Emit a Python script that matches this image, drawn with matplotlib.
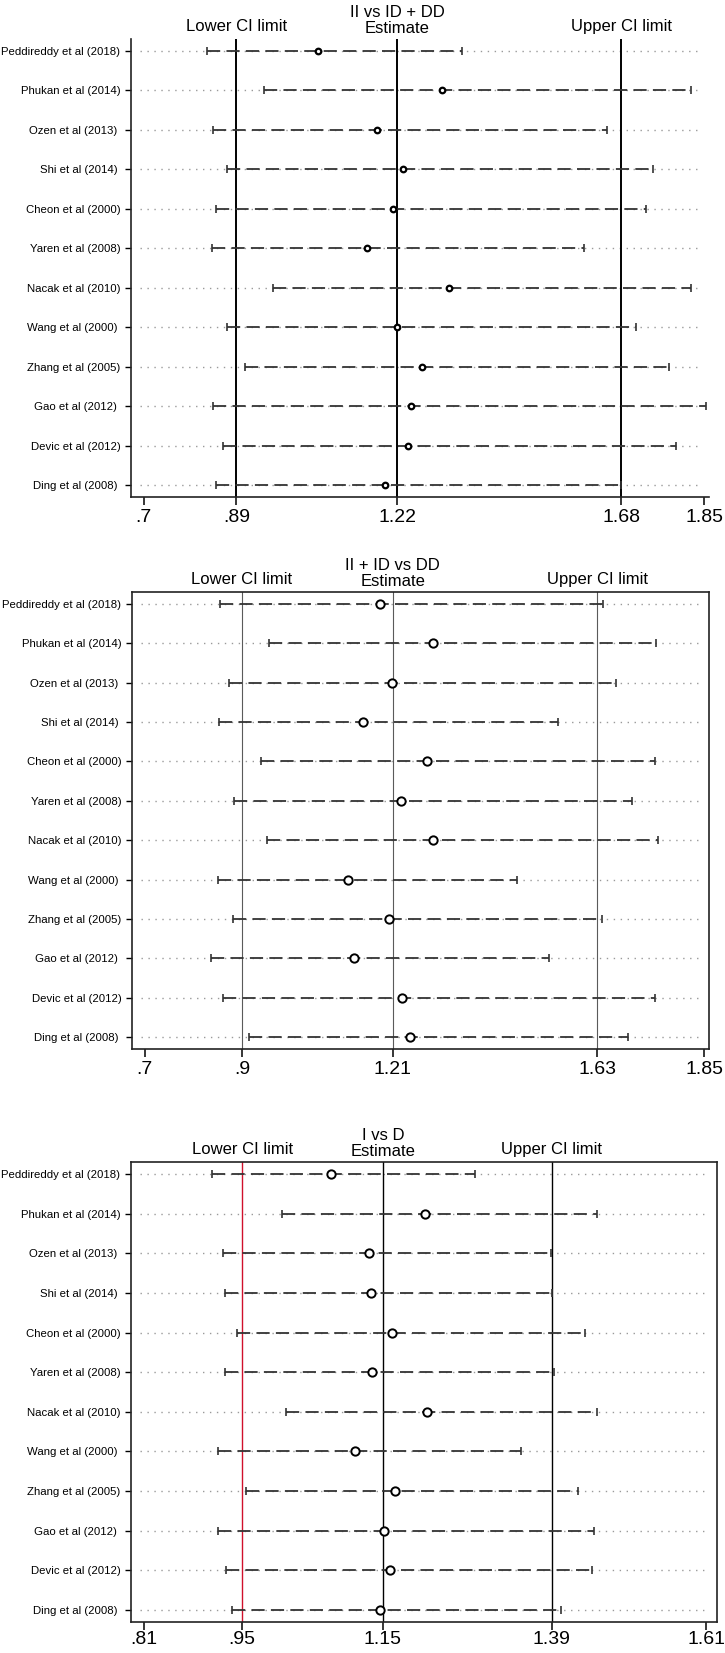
import matplotlib
matplotlib.use("Agg")
import matplotlib.pyplot as plt

plt.rcParams['font.family'] = ['Liberation Sans', 'DejaVu Sans']
plt.rcParams['lines.scale_dashes'] = False

studies = ["Peddireddy et al (2018)", "Phukan et al (2014)", "Ozen et al (2013) ",
           "Shi et al (2014) ", "Cheon et al (2000)", "Yaren et al (2008)",
           "Nacak et al (2010)", "Wang et al (2000) ", "Zhang et al (2005)",
           "Gao et al (2012) ", "Devic et al (2012)", "Ding et al (2008) "]

# II vs ID + DD
est1 = [1.058, 1.313, 1.178, 1.233, 1.212, 1.159, 1.327, 1.220, 1.271, 1.248, 1.242, 1.195]
lo1 = [0.829, 0.947, 0.842, 0.872, 0.849, 0.840, 0.965, 0.871, 0.907, 0.842, 0.862, 0.849]
hi1 = [1.353, 1.823, 1.651, 1.745, 1.731, 1.603, 1.823, 1.711, 1.778, 1.853, 1.793, 1.680]
overall1 = [0.89, 1.22, 1.68]
ticks1 = [0.7, 0.89, 1.22, 1.68, 1.85]
ticklab1 = [".7", ".89", "1.22", "1.68", "1.85"]

# II + ID vs DD
est2 = [1.183, 1.292, 1.208, 1.149, 1.281, 1.227, 1.292, 1.117, 1.203, 1.130, 1.229, 1.245]
lo2 = [0.854, 0.955, 0.873, 0.852, 0.939, 0.884, 0.951, 0.851, 0.882, 0.836, 0.862, 0.915]
hi2 = [1.642, 1.751, 1.668, 1.550, 1.748, 1.701, 1.755, 1.465, 1.641, 1.531, 1.750, 1.694]
overall2 = [0.9, 1.21, 1.63]
ticks2 = [0.7, 0.9, 1.21, 1.63, 1.85]
ticklab2 = [".7", ".9", "1.21", "1.63", "1.85"]

# I vs D
est3 = [1.077, 1.210, 1.131, 1.133, 1.163, 1.135, 1.213, 1.110, 1.167, 1.152, 1.160, 1.146]
lo3 = [0.907, 1.007, 0.923, 0.925, 0.942, 0.926, 1.013, 0.916, 0.955, 0.916, 0.927, 0.936]
hi3 = [1.281, 1.454, 1.389, 1.391, 1.437, 1.393, 1.454, 1.346, 1.427, 1.450, 1.447, 1.403]
overall3 = [0.95, 1.15, 1.39]
ticks3 = [0.81, 0.95, 1.15, 1.39, 1.61]
ticklab3 = [".81", ".95", "1.15", "1.39", "1.61"]

W, H = 725, 1653
fig = plt.figure(figsize=(W / 100, H / 100), dpi=100)


def make_ax(l, t, r, b):
    return fig.add_axes([l / W, 1 - b / H, (r - l) / W, (b - t) / H])


def panel(ax, title, est, lo, hi, overall, ticks, ticklab, xlim,
          vcolors, vlw, ms, mew, box, xpad):
    ys = list(range(1, len(studies) + 1))
    for y in ys:
        ax.axhline(y, xmin=0.015, xmax=0.985, color='#9a9a9a', lw=1,
                   ls=(0, (1, 4)), zorder=1)
    for x, c in zip(overall, vcolors):
        ax.axvline(x, color=c, lw=vlw, zorder=2)
    ax.hlines(ys, lo, hi, colors='#333333', lw=1.3, linestyles=[(0, (9.5, 4.5))], zorder=3)
    ax.plot(lo, ys, ls='none', marker='|', ms=6, mew=1.2, color='#333333', zorder=3)
    ax.plot(hi, ys, ls='none', marker='|', ms=6, mew=1.2, color='#333333', zorder=3)
    ax.plot(est, ys, ls='none', marker='o', ms=ms, mew=mew, mfc='white',
            mec='black', zorder=4)

    ax.set_xlim(*xlim)
    ax.set_ylim(len(studies) + 0.3, 0.7)
    ax.set_yticks(ys)
    ax.set_yticklabels(studies, fontsize=8.2)
    ax.set_xticks(ticks)
    ax.set_xticklabels(ticklab, fontsize=14)
    ax.tick_params(axis='y', length=4.3, width=1.0, pad=3.4)
    ax.tick_params(axis='x', length=5.8, width=1.1, pad=xpad)

    for s in ax.spines.values():
        s.set_linewidth(1.2)
        s.set_color('#222222')
    if not box:
        ax.spines['top'].set_visible(False)
        ax.spines['right'].set_visible(False)

    lbl = dict(xycoords=('data', 'axes fraction'), textcoords='offset points',
               ha='center', va='bottom', fontsize=12)
    ax.annotate("Lower CI limit", xy=(overall[0], 1), xytext=(0, 3.5), **lbl)
    ax.annotate("Upper CI limit", xy=(overall[2], 1), xytext=(0, 3.5), **lbl)
    ax.annotate(title + "\nEstimate", xy=(overall[1], 1), xytext=(0, 2.5),
                linespacing=1.05, **lbl)


ax1 = make_ax(131, 39, 709, 497)
panel(ax1, "II vs ID + DD", est1, lo1, hi1, overall1, ticks1, ticklab1,
      (0.674, 1.860), ['black'] * 3, 1.4, 4.0, 1.6, False, 3.0)

ax2 = make_ax(132, 592, 709, 1049)
panel(ax2, "II + ID vs DD", est2, lo2, hi2, overall2, ticks2, ticklab2,
      (0.674, 1.860), ['#5a5a5a'] * 3, 0.8, 6.0, 1.4, True, 3.0)

ax3 = make_ax(131, 1162, 717, 1622)
panel(ax3, "I vs D", est3, lo3, hi3, overall3, ticks3, ticklab3,
      (0.792, 1.625), ['#d0102c', 'black', 'black'], 1.0, 6.0, 1.4, True, 0.5)

fig.savefig("out.png", dpi=100, facecolor='white')
